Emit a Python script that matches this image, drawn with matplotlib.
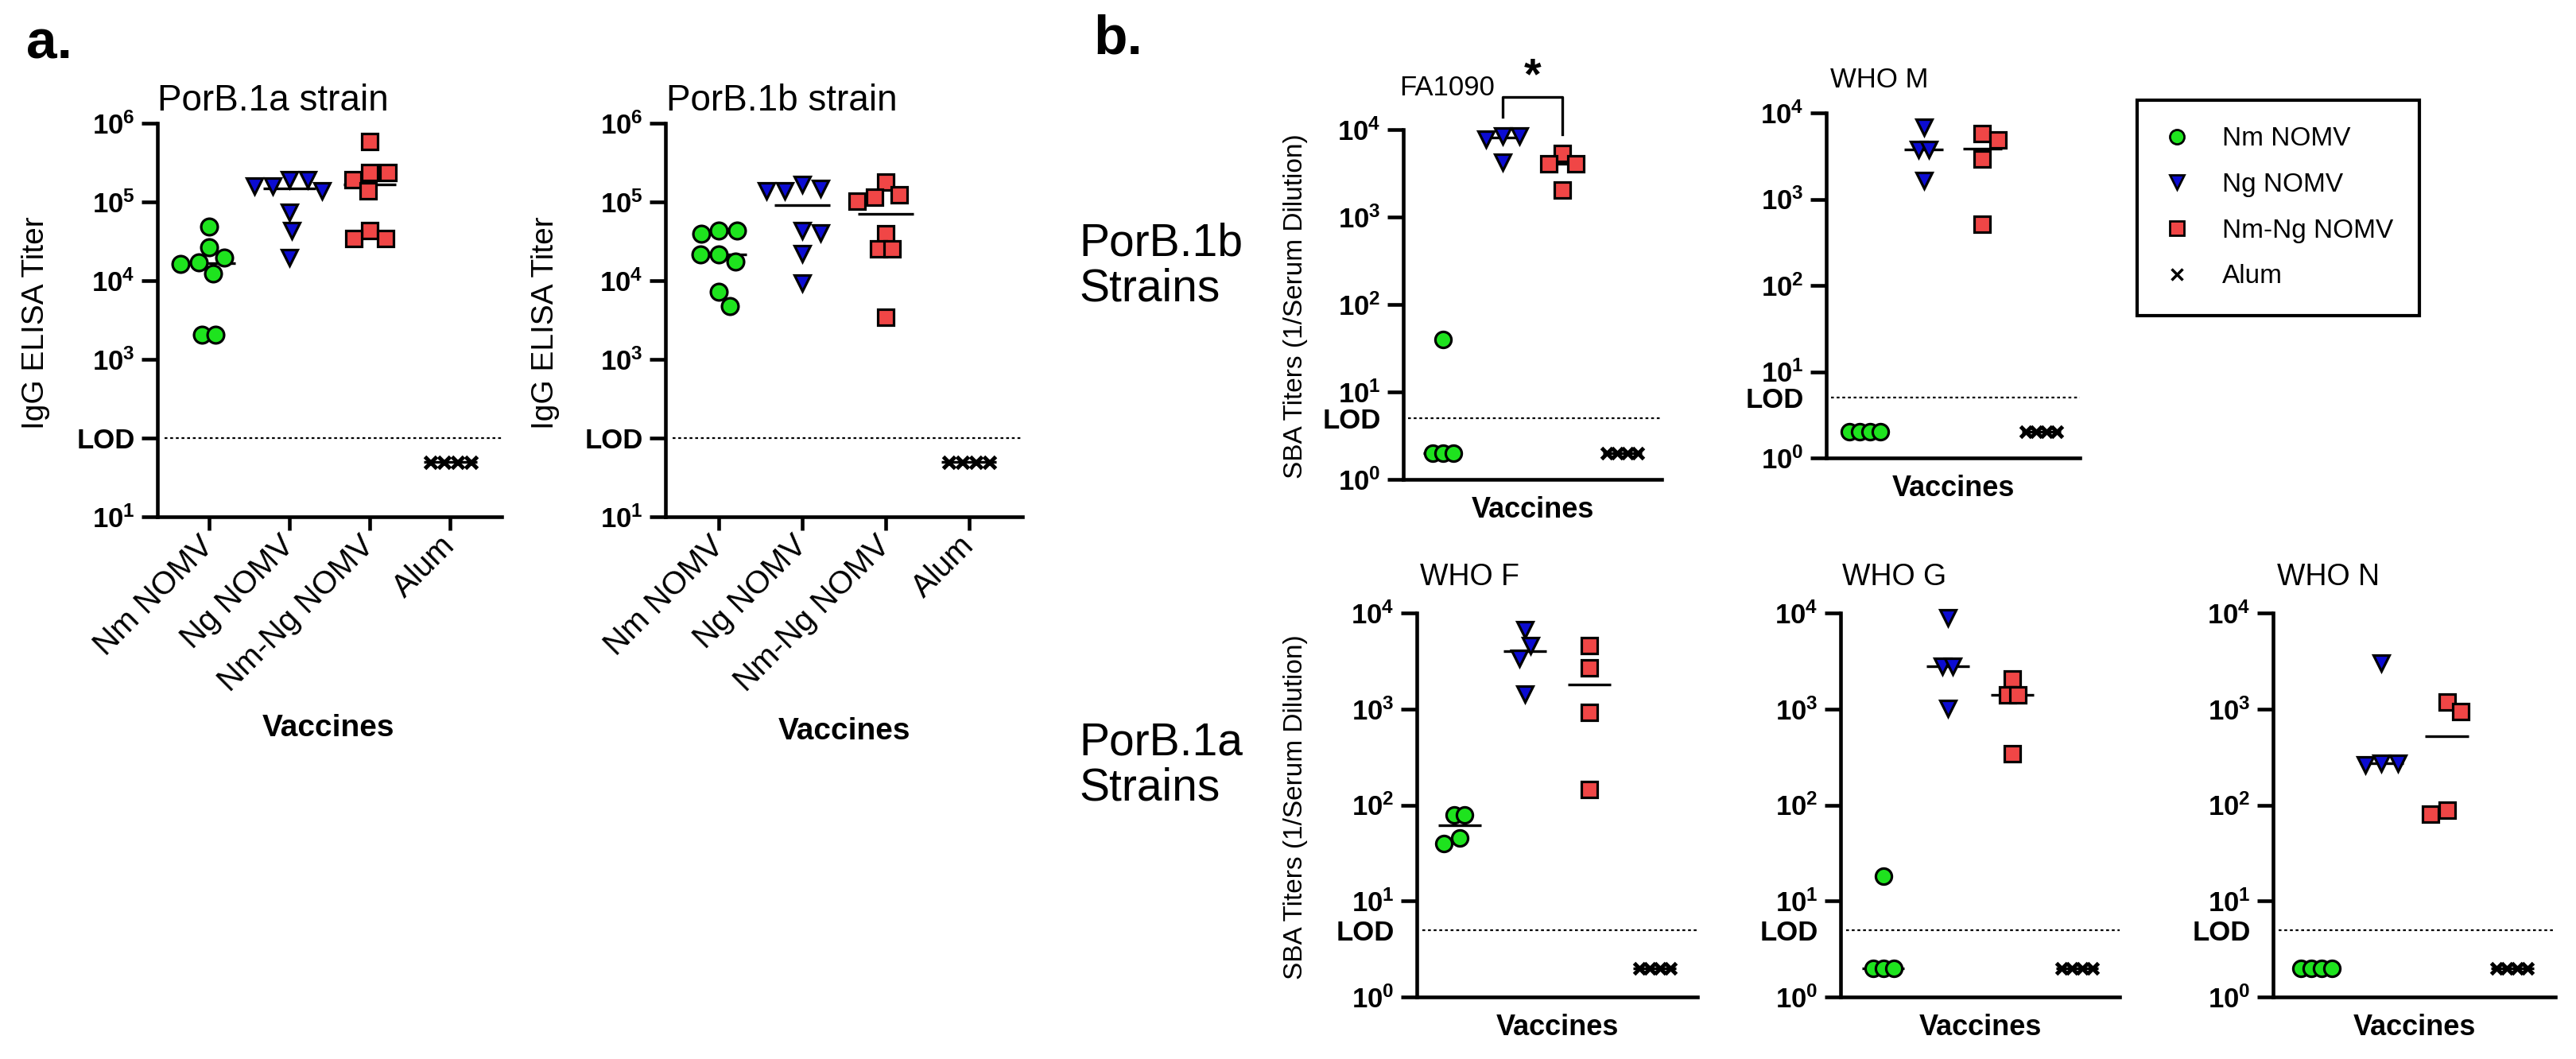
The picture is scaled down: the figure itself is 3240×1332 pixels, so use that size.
import numpy as np
import matplotlib
matplotlib.use('Agg')
import matplotlib.pyplot as plt
import matplotlib.ticker as mticker
from matplotlib.lines import Line2D

plt.rcParams['font.family'] = ['Liberation Sans', 'DejaVu Sans']
plt.rcParams['mathtext.fontset'] = 'custom'
plt.rcParams['mathtext.rm'] = 'Liberation Sans'
plt.rcParams['mathtext.bf'] = 'Liberation Sans:bold'
plt.rcParams['mathtext.it'] = 'Liberation Sans:italic'

W, H, DPI = 3241, 1332, 100

groups = ['Nm NOMV', 'Ng NOMV', 'Nm-Ng NOMV', 'Alum']
colors = ['#1ee31e', '#0c0cd2', '#f04646', 'black']
markers = ['o', 'v', 's', 'x']

# panel a - IgG ELISA titers
a1_nm = [49000, 26500, 19600, 17000, 16400, 12200, 2040, 2040]
a1_ng = [193000, 193000, 158000, 158000, 138000, 74000, 43500, 19700]
a1_mix = [587000, 235000, 235000, 192000, 138000, 43500, 34000, 34000]
a1_alum = [50, 50, 50, 50]

a2_nm = [43000, 43000, 39000, 21600, 21600, 17600, 7300, 4800]
a2_ng = [165000, 150000, 140000, 140000, 43000, 40000, 22000, 9300]
a2_mix = [177000, 124000, 115000, 102000, 39000, 25400, 25400, 3400]
a2_alum = [50, 50, 50, 50]

# panel b - SBA titers
fa1090_nm = [40, 2, 2, 2]
fa1090_ng = [8500, 8500, 7700, 4250]
fa1090_mix = [5300, 4100, 4100, 2050]
fa1090_alum = [2, 2, 2, 2]

whom_nm = [2, 2, 2, 2]
whom_ng = [6800, 3750, 3750, 1650]
whom_mix = [5700, 4850, 2900, 515]
whom_alum = [2, 2, 2, 2]

whof_nm = [79, 79, 45, 40]
whof_ng = [6700, 4600, 3400, 1420]
whof_mix = [4600, 2700, 920, 146]
whof_alum = [2, 2, 2, 2]

whog_nm = [18, 2, 2, 2]
whog_ng = [9000, 2800, 2800, 1020]
whog_mix = [2050, 1400, 1400, 340]
whog_alum = [2, 2, 2, 2]

whon_nm = [2, 2, 2, 2]
whon_ng = [3000, 270, 260, 270]
whon_mix = [1180, 946, 88, 80]
whon_alum = [2, 2, 2, 2]

ELISA_LOD = 100
SBA_LOD = 5

# FA1090 significance bracket (Ng vs Nm-Ng)
sig_top = 10 ** 4.37
sig_left = 10 ** 4.145
sig_right = 10 ** 3.945
star_y = 10 ** 4.6

fig = plt.figure(figsize=(W / DPI, H / DPI), dpi=DPI)
fig.patch.set_facecolor('white')


def px_axes(l, t, r, b):
    ax = fig.add_axes([l / W, 1 - b / H, (r - l) / W, (b - t) / H])
    ax.px = (r - l, b - t)
    return ax


def ftext(x, y, s, **kw):
    fig.text(x / W, 1 - y / H, s, **kw)


def swarm(vals, ux, uy, d, d_eq):
    # simple beeswarm in pixel space, returns x offsets in data units
    ys = np.log10(np.array(vals, float)) * uy
    order = np.argsort(-ys, kind='stable')
    offs = np.zeros(len(vals))
    placed = []
    for i in order:
        cands = [0.0]
        for xj, yj in placed:
            dy = ys[i] - yj
            if abs(dy) < d:
                dx = np.sqrt(d * d - dy * dy)
                cands += [xj + dx, xj - dx]
        bal = sum(p[0] for p in placed)
        cands.sort(key=lambda c: (round(abs(c), 3), c * bal > 0))
        for c in cands:
            if all((c - xj) ** 2 + (ys[i] - yj) ** 2 >= d * d - 1e-6 for xj, yj in placed):
                offs[i] = c
                break
        placed.append((offs[i], ys[i]))
    # identical values sit in a tight centred row when there is room
    vals = np.array(vals)
    for v in np.unique(vals):
        m = vals == v
        n = m.sum()
        if n < 2:
            continue
        row = (np.arange(n) - (n - 1) / 2) * d_eq
        others = ~m
        ok = all((r - offs[j]) ** 2 + (ys[m][0] - ys[j]) ** 2 >= (0.8 * d) ** 2
                 for r in row for j in np.where(others)[0])
        if ok:
            offs[m] = row
    return offs / ux


def draw_groups(ax, data, ylim, xlim, d, d_eq, ms):
    ux = ax.px[0] / (xlim[1] - xlim[0])
    uy = ax.px[1] / (np.log10(ylim[1]) - np.log10(ylim[0]))
    for i, vals in enumerate(data):
        off = swarm(vals, ux, uy, d, d_eq)
        med = np.median(vals)
        ax.hlines(med, i - 0.33, i + 0.33, color='black', lw=2.4, zorder=2)
        if markers[i] == 'x':
            ax.plot(i + off, vals, ls='none', marker='x', ms=ms * 0.72, color='black',
                    mew=3.6, zorder=3, clip_on=False)
        else:
            ax.plot(i + off, vals, ls='none', marker=markers[i], ms=ms, mfc=colors[i],
                    mec='black', mew=2.3, zorder=3, clip_on=False)


def style(ax, ylim, xlim, lod, ticks, labels, minor=None):
    ax.set_yscale('log')
    ax.set_ylim(*ylim)
    ax.set_xlim(*xlim)
    for s in ['top', 'right']:
        ax.spines[s].set_visible(False)
    for s in ['left', 'bottom']:
        ax.spines[s].set_linewidth(3.3)
    ax.set_yticks(ticks, labels=labels)
    ax.yaxis.set_minor_locator(mticker.NullLocator())
    ax.tick_params(axis='y', which='major', length=14.5, width=3.3, pad=6, labelsize=25)
    if minor is not None:
        ax.set_yticks([minor[0]], labels=[minor[1]], minor=True)
        ax.tick_params(axis='y', which='minor', length=0, pad=20.5, labelsize=25)
    for lab in ax.get_yticklabels(which='both'):
        lab.set_fontweight('bold')
    ax.axhline(lod, xmin=0.02, xmax=1, color='black', lw=1.6, ls=(0, (1.6, 1.6)), zorder=1)


def sup(e):
    return r'$\mathbf{10^{%d}}$' % e


# ---------------- panel a ----------------
xl_a = (-0.64, 3.64)
yl_a = (10, 1e6)
a_ticks = [10, 100, 1e3, 1e4, 1e5, 1e6]
a_labels = [sup(1), 'LOD', sup(3), sup(4), sup(5), sup(6)]

ax_a1 = px_axes(198, 155, 631, 650)
ax_a2 = px_axes(837, 155, 1286, 650)
for ax, data, title, tx in [(ax_a1, [a1_nm, a1_ng, a1_mix, a1_alum], 'PorB.1a strain', 198),
                            (ax_a2, [a2_nm, a2_ng, a2_mix, a2_alum], 'PorB.1b strain', 838)]:
    style(ax, yl_a, xl_a, ELISA_LOD, a_ticks, a_labels)
    draw_groups(ax, data, yl_a, xl_a, 23, 17, 15)
    ax.set_xticks(range(4), labels=groups, rotation=45, ha='right',
                  rotation_mode='anchor', va='center', fontsize=29)
    ax.tick_params(axis='x', length=12, width=3.3, pad=10)
    ftext(tx, 127, title, fontsize=33, ha='left', va='center')

ftext(45, 406, 'IgG ELISA Titer', fontsize=28, rotation=90, ha='center', va='center')
ftext(686, 406, 'IgG ELISA Titer', fontsize=28, rotation=90, ha='center', va='center')
ftext(413, 916, 'Vaccines', fontsize=28, fontweight='bold', ha='center', va='center')
ftext(1062, 920, 'Vaccines', fontsize=28, fontweight='bold', ha='center', va='center')
ftext(33, 55, 'a.', fontsize=50, fontweight='bold', ha='left', va='center')

# ---------------- panel b ----------------
xl_b = (-0.66, 3.66)
yl_b = (1, 1e4)
b_ticks = [1, 10, 100, 1e3, 1e4]
b_labels = [sup(k) for k in range(5)]

sba_panels = [
    ((1765, 163, 2090, 603), [fa1090_nm, fa1090_ng, fa1090_mix, fa1090_alum], 'FA1090', 25, 1760, 111),
    ((2297, 142, 2616, 576), [whom_nm, whom_ng, whom_mix, whom_alum], 'WHO M', 25, 2302, 100),
    ((1782, 771, 2135, 1254), [whof_nm, whof_ng, whof_mix, whof_alum], 'WHO F', 27, 1786, 726),
    ((2315, 771, 2666, 1254), [whog_nm, whog_ng, whog_mix, whog_alum], 'WHO G', 27, 2317, 726),
    ((2859, 771, 3214, 1254), [whon_nm, whon_ng, whon_mix, whon_alum], 'WHO N', 27, 2864, 726),
]
sba_axes = []
for rect, data, title, tsize, tx, ty in sba_panels:
    ax = px_axes(*rect)
    style(ax, yl_b, xl_b, SBA_LOD, b_ticks, b_labels, minor=(SBA_LOD, 'LOD'))
    draw_groups(ax, data, yl_b, xl_b, 21, 13, 14.5)
    ax.set_xticks([])
    ax.text(0.5, -39 / ax.px[1], 'Vaccines', transform=ax.transAxes, fontsize=26,
            fontweight='bold', ha='center', va='center')
    ftext(tx, ty, title, fontsize=tsize, ha='left', va='center')
    sba_axes.append(ax)

# significance bracket on FA1090
ax_fa = sba_axes[0]
ax_fa.plot([1, 1, 2, 2], [sig_left, sig_top, sig_top, sig_right], color='black',
           lw=2.4, clip_on=False, zorder=4)
ax_fa.text(1.5, star_y, '*', fontsize=40, fontweight='bold', ha='center', va='center')

ftext(1375, 50, 'b.', fontsize=50, fontweight='bold', ha='left', va='center')
ftext(1357, 335, 'PorB.1b\nStrains', fontsize=41, ha='left', va='center', linespacing=1.05)
ftext(1357, 963, 'PorB.1a\nStrains', fontsize=41, ha='left', va='center', linespacing=1.05)
ftext(1630, 385, 'SBA Titers (1/Serum Dilution)', fontsize=24, rotation=90,
      ha='center', va='center')
ftext(1630, 1015, 'SBA Titers (1/Serum Dilution)', fontsize=24, rotation=90,
      ha='center', va='center')

# legend
handles = [Line2D([], [], ls='none', marker=markers[i], ms=13, mfc=colors[i],
                  mec='black', mew=2) for i in range(3)]
handles.append(Line2D([], [], ls='none', marker='x', ms=10, color='black', mew=2.5))
leg = fig.legend(handles, groups, loc='upper left', bbox_to_anchor=(2688 / W, 1 - 126 / H),
                 fontsize=24, frameon=True, fancybox=False, edgecolor='black',
                 framealpha=1, borderaxespad=0, borderpad=1.0, labelspacing=0.8,
                 handlelength=1.0, handletextpad=1.2)
leg.get_frame().set_linewidth(3)

fig.savefig('out.png', dpi=DPI, facecolor='white')
